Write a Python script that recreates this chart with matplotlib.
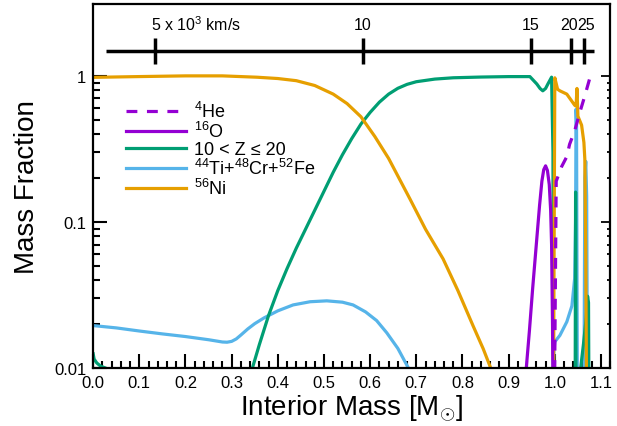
import numpy as np
import matplotlib
matplotlib.use('Agg')
import matplotlib.pyplot as plt
from matplotlib.ticker import FixedLocator, FixedFormatter, NullFormatter
import matplotlib.transforms as mtransforms

plt.rcParams['font.family'] = ['Liberation Sans', 'DejaVu Sans']
plt.rcParams['mathtext.fontset'] = 'custom'
plt.rcParams['mathtext.rm'] = 'Liberation Sans'
plt.rcParams['mathtext.it'] = 'Liberation Sans'

# --- data (interior mass [Msun], mass fraction) ---
# 56Ni
ni_x1 = [0.0, 0.1, 0.2, 0.28, 0.355, 0.40, 0.44, 0.48, 0.52, 0.55, 0.58, 0.61, 0.64,
         0.686, 0.72, 0.758, 0.79, 0.823, 0.845, 0.86, 0.87]
ni_y1 = [0.977, 0.989, 1.0, 1.0, 0.979, 0.959, 0.927, 0.859, 0.75, 0.646, 0.525, 0.385,
         0.272, 0.144, 0.089, 0.0558, 0.0339, 0.0194, 0.0135, 0.0102, 0.0083]
ni_x2 = [0.997, 1.0, 1.006, 1.011, 1.026, 1.037, 1.043, 1.046, 1.048, 1.05, 1.058, 1.063,
         1.065, 1.067, 1.069]
ni_y2 = [0.005, 0.97, 0.81, 0.79, 0.75, 0.67, 0.63, 0.62, 0.82, 0.53, 0.46, 0.35,
         0.27, 0.06, 0.005]

# 10 < Z <= 20
z_x1 = [0.0, 0.002, 0.008, 0.016, 0.026, 0.035]
z_y1 = [0.0125, 0.0115, 0.0108, 0.0103, 0.0100, 0.0097]
z_x2 = [0.345, 0.36, 0.38, 0.40, 0.42, 0.44, 0.46, 0.48, 0.50, 0.52, 0.54, 0.56, 0.58,
        0.60, 0.62, 0.64, 0.66, 0.68, 0.70, 0.74, 0.78, 0.84, 0.90, 0.946, 0.961,
        0.968, 0.974, 0.98, 0.985, 0.993, 0.996, 0.997]
z_y2 = [0.0100, 0.01445, 0.0229, 0.0339, 0.0479, 0.0661, 0.0891, 0.1202, 0.1622, 0.2188,
        0.2884, 0.3715, 0.4677, 0.5623, 0.6607, 0.7499, 0.8222, 0.8750, 0.912, 0.9506,
        0.9705, 0.9817, 0.9886, 0.9886, 0.88, 0.82, 0.79, 0.82, 0.88, 0.98, 0.3, 0.005]
z_x3 = [1.044, 1.045, 1.046]
z_y3 = [0.005, 0.16, 0.005]
z_x4 = [1.056, 1.062, 1.068, 1.071, 1.073, 1.074]
z_y4 = [0.01, 0.0145, 0.022, 0.031, 0.028, 0.005]

# 44Ti + 48Cr + 52Fe
ti_x1 = [0.0, 0.05, 0.1, 0.15, 0.2, 0.25, 0.28, 0.29, 0.30, 0.31, 0.32, 0.335, 0.35,
         0.37, 0.40, 0.433, 0.47, 0.506, 0.54, 0.563, 0.59, 0.614, 0.636, 0.66, 0.682, 0.69]
ti_y1 = [0.0195, 0.0188, 0.0179, 0.0171, 0.0164, 0.0156, 0.01505, 0.0150, 0.0152, 0.0158,
         0.0168, 0.0185, 0.0201, 0.0220, 0.0246, 0.027, 0.0284, 0.0288, 0.0282, 0.027,
         0.0242, 0.0211, 0.0174, 0.0136, 0.0101, 0.009]
ti_x2 = [0.995, 0.998, 1.0, 1.011, 1.026, 1.037, 1.043, 1.045, 1.046, 1.047, 1.049]
ti_y2 = [0.005, 0.013, 0.0151, 0.0167, 0.0207, 0.0266, 0.041, 0.1, 0.59, 0.5, 0.005]
ti_x3 = [1.063, 1.065, 1.067, 1.069, 1.071]
ti_y3 = [0.005, 0.2, 0.26, 0.15, 0.005]

# 16O
o_x = [0.937, 0.945, 0.952, 0.961, 0.967, 0.972, 0.976, 0.98, 0.984, 0.988, 0.991,
       0.993, 0.995, 0.996]
o_y = [0.009, 0.018, 0.035, 0.077, 0.13, 0.19, 0.228, 0.242, 0.225, 0.18, 0.12,
       0.07, 0.02, 0.007]

# 4He
he_x = [0.999, 1.003, 1.015, 1.026, 1.032, 1.043, 1.054, 1.065, 1.076]
he_y = [0.005, 0.19, 0.24, 0.28, 0.34, 0.42, 0.56, 0.73, 0.97]

# velocity scale (10^3 km/s) and the interior mass it corresponds to
vel_labels = ['5 x 10$^3$ km/s', '10', '15', '20', '25']
vel_mass = [0.134, 0.584, 0.948, 1.035, 1.063]
vel_line = [0.028, 1.084]

C_HE = '#9400D3'
C_Z = '#009E73'
C_TI = '#56B4E9'
C_NI = '#E69F00'
LW = 2.3
HE_DASH = (0, (3.4, 3.0))

fig = plt.figure(figsize=(6.17, 4.27), dpi=100)
ax = fig.add_axes([0.151, 0.136, 0.838, 0.852])

ax.plot(ti_x1, ti_y1, color=C_TI, lw=LW)
ax.plot(ti_x2, ti_y2, color=C_TI, lw=LW)
ax.plot(ti_x3, ti_y3, color=C_TI, lw=LW)
ax.plot(z_x1, z_y1, color=C_Z, lw=LW)
ax.plot(z_x2, z_y2, color=C_Z, lw=LW)
ax.plot(z_x3, z_y3, color=C_Z, lw=LW)
ax.plot(z_x4, z_y4, color=C_Z, lw=LW)
ax.plot(ni_x1, ni_y1, color=C_NI, lw=LW)
ax.plot(ni_x2, ni_y2, color=C_NI, lw=LW)
ax.plot(o_x, o_y, color=C_HE, lw=LW)
ax.plot(he_x, he_y, color=C_HE, lw=LW, ls=HE_DASH)

# legend handles
h_he, = ax.plot([], [], color=C_HE, lw=LW, ls=HE_DASH, label='$^{4}$He')
h_o, = ax.plot([], [], color=C_HE, lw=LW, label='$^{16}$O')
h_z, = ax.plot([], [], color=C_Z, lw=LW, label='10 < Z \u2264 20')
h_ti, = ax.plot([], [], color=C_TI, lw=LW, label='$^{44}$Ti+$^{48}$Cr+$^{52}$Fe')
h_ni, = ax.plot([], [], color=C_NI, lw=LW, label='$^{56}$Ni')
ax.legend(handles=[h_he, h_o, h_z, h_ti, h_ni], loc='upper left',
          bbox_to_anchor=(0.05, 0.754), frameon=False, fontsize=13,
          handlelength=3.3, handletextpad=0.45, labelspacing=0.0,
          borderaxespad=0)

ax.set_yscale('log')
ax.set_xlim(0.0, 1.12)
ax.set_ylim(0.01, 3.1)

ax.xaxis.set_major_locator(FixedLocator(np.round(np.arange(0, 1.11, 0.1), 2)))
ax.xaxis.set_minor_locator(FixedLocator(np.round(np.arange(0, 1.121, 0.02), 2)))
ax.set_xticklabels([f'{v:.1f}' for v in np.arange(0, 1.11, 0.1)])

yminor = [m * 10.0 ** e for e in (-2, -1) for m in range(2, 10)]
ax.yaxis.set_major_locator(FixedLocator([0.01, 0.1, 1]))
ax.yaxis.set_major_formatter(FixedFormatter(['0.01', '0.1', '1']))
ax.yaxis.set_minor_locator(FixedLocator(yminor))
ax.yaxis.set_minor_formatter(NullFormatter())

ax.tick_params(which='both', direction='in', top=False, right=False,
               labelsize=12, width=1.5, pad=5)
ax.tick_params(which='major', length=10)
ax.tick_params(which='minor', length=5)
for s in ax.spines.values():
    s.set_linewidth(1.6)

ax2 = ax.twinx()
ax2.set_yscale('log')
ax2.set_ylim(ax.get_ylim())
ax2.yaxis.set_major_locator(FixedLocator([0.01, 0.1, 1]))
ax2.yaxis.set_minor_locator(FixedLocator(yminor))
ax2.yaxis.set_major_formatter(NullFormatter())
ax2.yaxis.set_minor_formatter(NullFormatter())
ax2.tick_params(which='both', direction='in', width=1.3)
ax2.tick_params(which='major', length=6.5)
ax2.tick_params(which='minor', length=2.5)
for s in ax2.spines.values():
    s.set_visible(False)

ax.set_xlabel(r'Interior Mass [M$_{\odot}$]', fontsize=20, labelpad=2)
ax.set_ylabel('Mass Fraction', fontsize=20, labelpad=10)

# velocity scale drawn inside the top of the panel
trans = mtransforms.blended_transform_factory(ax.transData, ax.transAxes)
ax.plot(vel_line, [0.871, 0.871], color='black', lw=2.5, transform=trans,
        solid_capstyle='butt', clip_on=False)
for m in vel_mass:
    ax.plot([m, m], [0.835, 0.907], color='black', lw=2.5, transform=trans,
            solid_capstyle='butt')
# labels: first one starts at its tick, the last two sit side by side
ax.text(vel_mass[0] - 0.009, 0.945, vel_labels[0], transform=trans,
        ha='left', va='center', fontsize=11.5)
for m, lab in zip(vel_mass[1:3], vel_labels[1:3]):
    ax.text(m, 0.945, lab, transform=trans, ha='center', va='center', fontsize=11.5)
mid = 0.5 * (vel_mass[3] + vel_mass[4])
ax.text(mid, 0.945, vel_labels[3], transform=trans, ha='right', va='center',
        fontsize=11.5)
ax.text(mid, 0.945, vel_labels[4], transform=trans, ha='left', va='center',
        fontsize=11.5)

fig.savefig('out.png', dpi=100)
